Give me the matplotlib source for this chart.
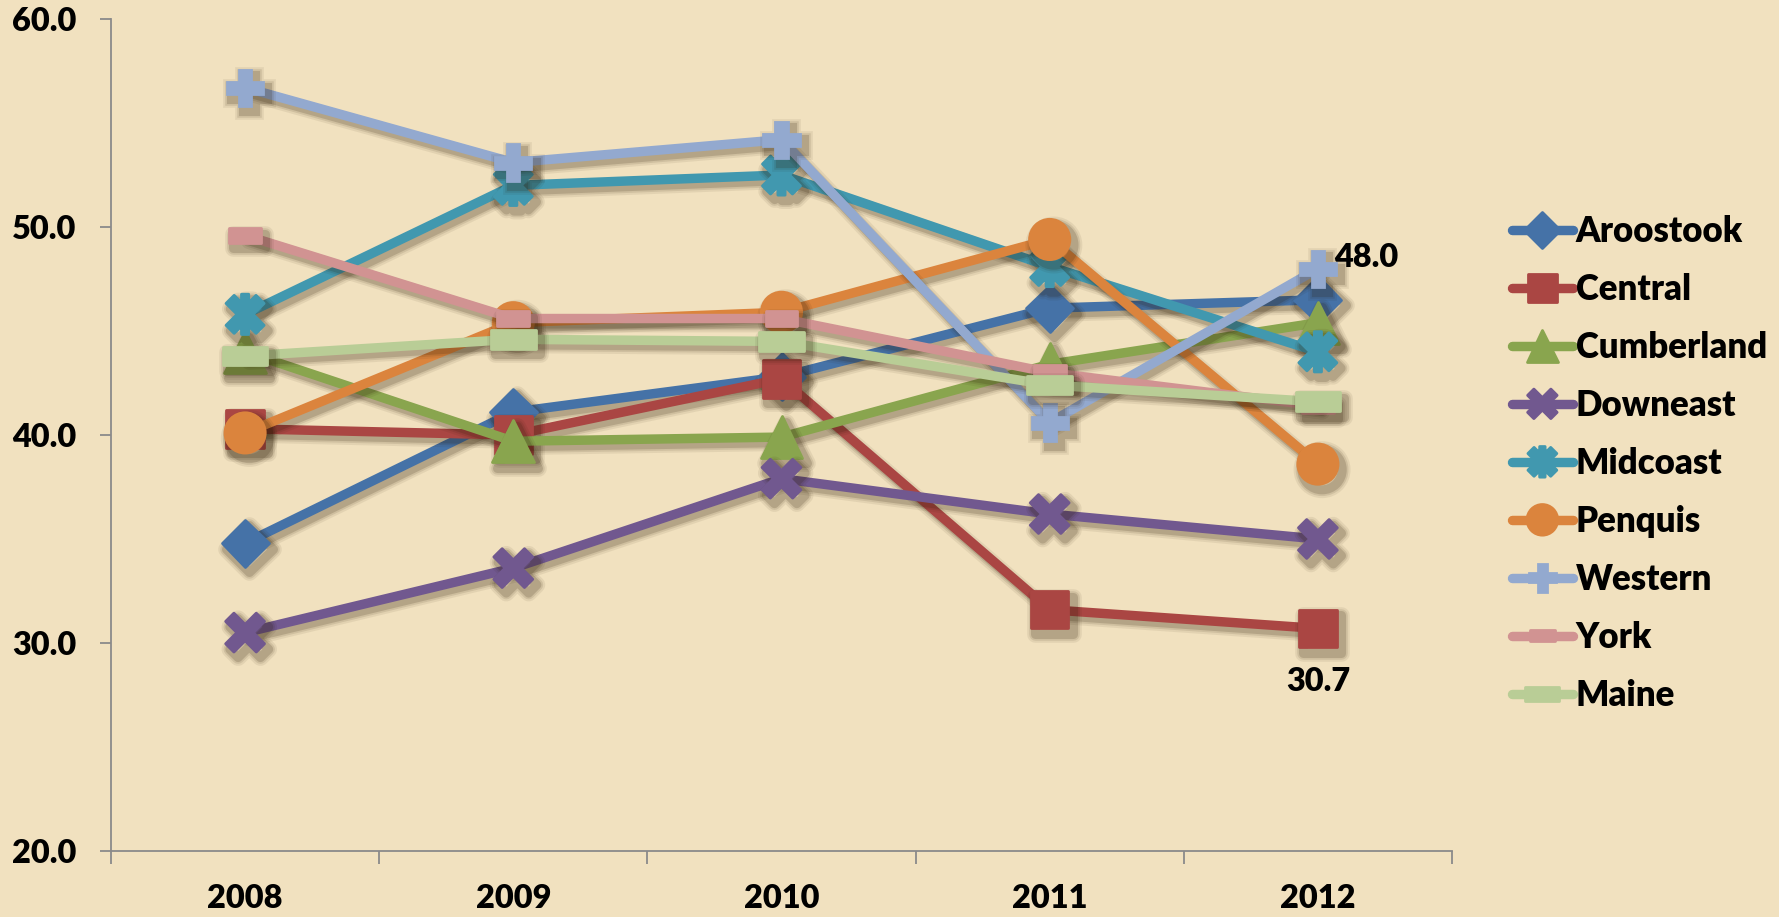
import numpy as np
import matplotlib
matplotlib.use("Agg")
import matplotlib.pyplot as plt
from matplotlib.markers import MarkerStyle
from matplotlib.path import Path
import matplotlib.patheffects as pe

# ---- data ----
years = ["2008", "2009", "2010", "2011", "2012"]
aroostook = [34.8, 41.1, 42.8, 46.1, 46.5]
central = [40.3, 40.0, 42.7, 31.6, 30.7]
cumberland = [44.0, 39.7, 39.9, 43.4, 45.4]
downeast = [30.5, 33.6, 37.9, 36.2, 35.0]
midcoast = [45.8, 52.0, 52.5, 48.1, 44.0]
penquis = [40.1, 45.4, 45.9, 49.4, 38.6]
western = [56.7, 53.1, 54.2, 40.6, 48.0]
york = [49.6, 45.6, 45.6, 43.0, 41.4]
maine = [43.8, 44.6, 44.5, 42.4, 41.6]
series_names = ["Aroostook", "Central", "Cumberland", "Downeast", "Midcoast",
                "Penquis", "Western", "York", "Maine"]
yticks = [20.0, 30.0, 40.0, 50.0, 60.0]

# ---- styling ----
BG = "#F1E1BF"
colors = ["#4572A7", "#AA4643", "#89A54E", "#71588F", "#4198AF",
          "#DB843D", "#93A9CF", "#D19392", "#B9CD96"]

def plus_poly(t):
    return [(-1, -t), (-1, t), (-t, t), (-t, 1), (t, 1), (t, t), (1, t),
            (1, -t), (t, -t), (t, -1), (-t, -1), (-t, -t)]

def rot45(pts):
    c = np.cos(np.pi / 4)
    return [((x - y) * c, (x + y) * c) for x, y in pts]

x_pts = rot45(plus_poly(0.27))
x_path = Path(x_pts + [x_pts[0]], closed=True)

bar = [(-0.17, -0.95), (-0.17, 0.95), (0.17, 0.95), (0.17, -0.95)]
star_verts = x_pts + [x_pts[0]] + bar + [bar[0]]
star_codes = ([Path.MOVETO] + [Path.LINETO] * (len(x_pts) - 1) + [Path.CLOSEPOLY]
              + [Path.MOVETO] + [Path.LINETO] * 3 + [Path.CLOSEPOLY])
star_path = Path(star_verts, star_codes)

dash_short = Path([(-1, -0.45), (1, -0.45), (1, 0.45), (-1, 0.45), (-1, -0.45)], closed=True)
dash_long = Path([(-1, -0.42), (1, -0.42), (1, 0.42), (-1, 0.42), (-1, -0.42)], closed=True)

markers = [
    (MarkerStyle("D", joinstyle="round"), 24),
    (MarkerStyle("s", joinstyle="round"), 27),
    (MarkerStyle("^", joinstyle="round"), 30),
    (MarkerStyle(x_path, joinstyle="miter"), 28),
    (MarkerStyle(star_path, joinstyle="miter"), 29),
    (MarkerStyle("o"), 29),
    (MarkerStyle("P", joinstyle="miter"), 26),
    (MarkerStyle(dash_short, joinstyle="round"), 23),
    (MarkerStyle(dash_long, joinstyle="round"), 32),
]

data = [aroostook, central, cumberland, downeast, midcoast, penquis, western, york, maine]

plt.rcParams["font.family"] = ["Lato", "DejaVu Sans"]
plt.rcParams["font.weight"] = "heavy"
FS = 23.4       # tick labels and data labels
FS_LEG = 25     # legend text
FW = "heavy"

fig = plt.figure(figsize=(17.79, 9.17), dpi=100, facecolor=BG)
ax = fig.add_axes([111 / 1779, 66 / 917, (1452 - 111) / 1779, (851 - 19) / 917])
ax.set_facecolor("none")

xs = np.arange(len(years))
shadow = [
    pe.SimpleLineShadow(offset=(3, -4), shadow_color="#2a1a05", alpha=0.07, linewidth=12),
    pe.SimpleLineShadow(offset=(3, -4), shadow_color="#2a1a05", alpha=0.10, linewidth=9),
    pe.SimpleLineShadow(offset=(3, -4), shadow_color="#2a1a05", alpha=0.16, linewidth=6.5),
    pe.Normal(),
]

handles = []
for name, vals, col, (mk, ms) in zip(series_names, data, colors, markers):
    ln, = ax.plot(xs, vals, color=col, lw=6.8, marker=mk, markersize=ms,
                  markerfacecolor=col, markeredgecolor=col, markeredgewidth=2,
                  solid_joinstyle="round", solid_capstyle="round",
                  label=name, path_effects=shadow, clip_on=False)
    handles.append(ln)

ax.set_xlim(-0.5, len(years) - 0.5)
ax.set_ylim(yticks[0], yticks[-1])
ax.set_yticks(yticks)
ax.set_yticklabels([f"{v:.1f}" for v in yticks])
ax.set_xticks(xs)
ax.set_xticklabels(years)
ax.set_xticks(np.arange(-0.5, len(years)), minor=True)
ax.tick_params(axis="x", which="major", length=0, pad=24, labelsize=FS)
ax.tick_params(axis="x", which="minor", length=9, width=1.3, color="#8a8a8a", direction="out")
ax.tick_params(axis="y", which="major", length=8, width=1.3, color="#8a8a8a", pad=17, labelsize=FS)
for lbl in ax.get_xticklabels() + ax.get_yticklabels():
    lbl.set_fontweight(FW)

for s in ["top", "right"]:
    ax.spines[s].set_visible(False)
for s in ["left", "bottom"]:
    ax.spines[s].set_color("#8a8a8a")
    ax.spines[s].set_linewidth(1.3)

# data labels
ax.annotate(f"{western[-1]:.1f}", (xs[-1], western[-1]), xytext=(12, 8),
            textcoords="offset points", ha="left", va="center",
            fontsize=FS, fontweight=FW, color="black")
ax.annotate(f"{central[-1]:.1f}", (xs[-1], central[-1]), xytext=(0, -38),
            textcoords="offset points", ha="center", va="center",
            fontsize=FS, fontweight=FW, color="black")

leg = fig.legend(handles=handles, labels=series_names, loc="upper left",
                 bbox_to_anchor=(1512 / 1779, 1 - 215 / 917), frameon=False,
                 borderpad=0, borderaxespad=0, handlelength=1.75, handletextpad=0.08,
                 labelspacing=0.72, markerscale=0.76,
                 prop={"size": FS_LEG, "weight": FW})
for lh in leg.legend_handles:
    lh.set_path_effects([pe.Normal()])

fig.savefig("out.png", dpi=100, facecolor=BG)
